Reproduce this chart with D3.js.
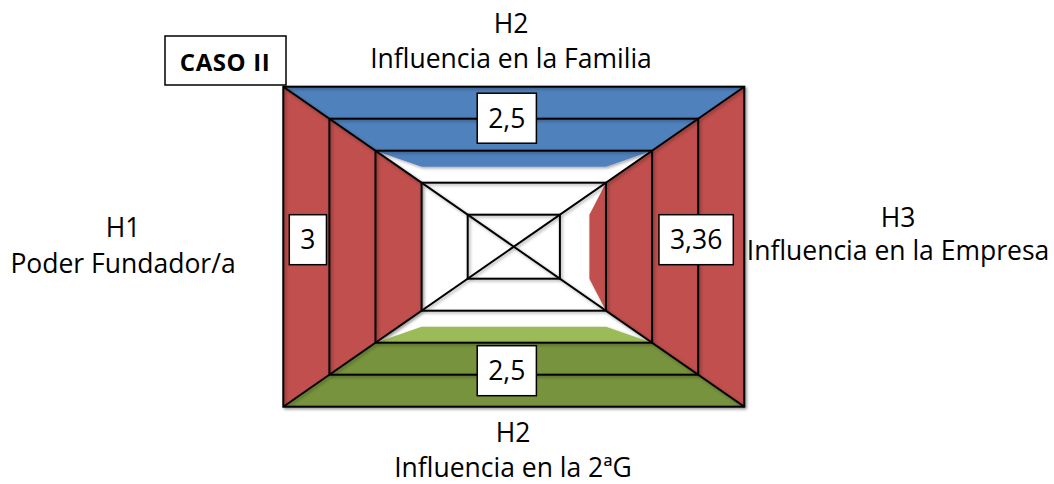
<!DOCTYPE html>
<html>
<head>
<meta charset="utf-8">
<script src="https://cdn.jsdelivr.net/npm/d3@7"></script>
<style>
  body { margin: 0; background: #fff; }
  svg text { font-family: "Open Sans", "DejaVu Sans", sans-serif; fill: #000; }
</style>
</head>
<body>
<svg id="chart" width="1054" height="484"></svg>
<script>
// data: one entry per side of the frame (top, right, bottom, left)
const sides = ["top", "right", "bottom", "left"];
const values = [2.5, 3.36, 2.5, 3];
const valueLabels = ["2,5", "3,36", "2,5", "3"];
const hypotheses = ["H2", "H3", "H2", "H1"];
const axisTitles = ["Influencia en la Familia", "Influencia en la Empresa", "Influencia en la 2ªG", "Poder Fundador/a"];
const levels = [1, 2, 3, 4, 5];
const maxValue = 5;
const caseLabel = "CASO II";

const fullColors = ["#4f81bd", "#c0504d", "#77933c", "#c0504d"];
const partColors = ["#4f81bd", "#c0504d", "#9bbb59", "#c0504d"];

const svg = d3.select("#chart");

const cx = 513.8, cy = 246.7, hw = 230.5, hh = 160;

// value -> fraction of the half size (0 on the rim = 1, 5 in the center = 0)
const depth = d3.scaleLinear().domain([0, maxValue]).range([1, 0]);

// point on a side: sn = depth along the normal, st = extent along the side, sign = which end
function pt(side, sn, st, sign) {
  if (side === "top") return [cx + sign * st * hw, cy - sn * hh];
  if (side === "bottom") return [cx + sign * st * hw, cy + sn * hh];
  if (side === "right") return [cx + sn * hw, cy + sign * st * hh];
  return [cx - sn * hw, cy + sign * st * hh];
}

const defs = svg.append("defs");
const f = defs.append("filter").attr("id", "shadow")
  .attr("x", "-10%").attr("y", "-10%").attr("width", "130%").attr("height", "130%");
f.append("feDropShadow")
  .attr("dx", 1.5).attr("dy", 1.5)
  .attr("stdDeviation", 1.6)
  .attr("flood-color", "#000")
  .attr("flood-opacity", 0.35);

const line = d3.line();
const fills = svg.append("g").attr("filter", "url(#shadow)");

// bands per side
sides.forEach((side, i) => {
  const v = values[i];
  const full = Math.floor(v);
  d3.range(full).forEach(k => {
    const so = depth(k), si = depth(k + 1);
    fills.append("path")
      .attr("d", line([pt(side, so, so, -1), pt(side, so, so, 1), pt(side, si, si, 1), pt(side, si, si, -1)]) + "Z")
      .attr("fill", fullColors[i]);
  });
  if (v > full) {
    const sHi = depth(full), sLo = depth(full + 1), sv = depth(v);
    fills.append("path")
      .attr("d", line([pt(side, sHi, sHi, -1), pt(side, sHi, sHi, 1), pt(side, sv, sLo, 1), pt(side, sv, sLo, -1)]) + "Z")
      .attr("fill", partColors[i]);
  }
});

// grid: nested rectangles + diagonals
const grid = svg.append("g").attr("filter", "url(#shadow)")
  .attr("fill", "none").attr("stroke", "#000").attr("stroke-width", 2);

grid.selectAll("rect")
  .data(levels)
  .join("rect")
  .attr("x", d => cx - depth(maxValue - d) * hw)
  .attr("y", d => cy - depth(maxValue - d) * hh)
  .attr("width", d => 2 * depth(maxValue - d) * hw)
  .attr("height", d => 2 * depth(maxValue - d) * hh);

grid.append("line")
  .attr("x1", cx - hw).attr("y1", cy - hh)
  .attr("x2", cx + hw).attr("y2", cy + hh);
grid.append("line")
  .attr("x1", cx + hw).attr("y1", cy - hh)
  .attr("x2", cx - hw).attr("y2", cy + hh);

// value boxes
const shift = -7, boxH = 50, pad = 11;
sides.forEach((side, i) => {
  const g = svg.append("g");
  const t = g.append("text")
    .attr("text-anchor", "middle")
    .style("font-size", "26.5px")
    .text(valueLabels[i]);
  const w = t.node().getComputedTextLength() + 2 * pad;
  let bx, by;
  if (side === "top") { bx = cx + shift - w / 2; by = cy - hh + 6.5; }
  else if (side === "bottom") { bx = cx + shift - w / 2; by = cy + hh - 11 - boxH; }
  else if (side === "left") { bx = cx - hw + 6; by = cy + shift - boxH / 2; }
  else { bx = cx + hw - 11 - w; by = cy + shift - boxH / 2; }
  g.insert("rect", "text")
    .attr("x", bx).attr("y", by)
    .attr("width", w).attr("height", boxH)
    .attr("fill", "#fff").attr("stroke", "#000").attr("stroke-width", 1.5);
  t.attr("x", bx + w / 2).attr("y", by + boxH / 2 + 9.5);
});

// axis titles
const titlePos = {
  top: [511, 33, 68],
  right: [898, 227, 260],
  bottom: [513, 442, 477],
  left: [123, 237, 273]
};
sides.forEach((side, i) => {
  const p = titlePos[side];
  svg.append("text")
    .attr("x", p[0]).attr("y", p[1])
    .attr("text-anchor", "middle")
    .style("font-size", "26.5px")
    .text(hypotheses[i]);
  svg.append("text")
    .attr("x", p[0]).attr("y", p[2])
    .attr("text-anchor", "middle")
    .style("font-size", "26.5px")
    .text(axisTitles[i]);
});

// case label
svg.append("rect")
  .attr("x", 165).attr("y", 36)
  .attr("width", 121).attr("height", 49)
  .attr("fill", "#fff").attr("stroke", "#000").attr("stroke-width", 1.5);
svg.append("text")
  .attr("x", 225).attr("y", 71)
  .attr("text-anchor", "middle")
  .style("font-size", "24px")
  .style("font-weight", "bold")
  .style("letter-spacing", "0.6px")
  .text(caseLabel);
</script>
</body>
</html>
